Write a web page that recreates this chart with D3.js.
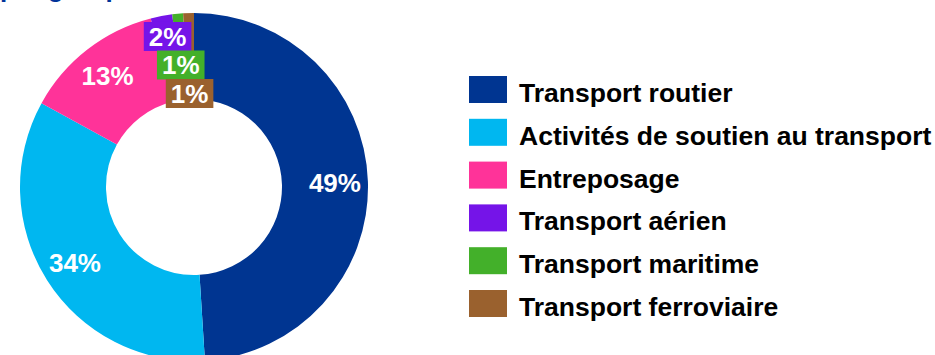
<!DOCTYPE html>
<html>
<head>
<meta charset="utf-8">
<script src="https://cdn.jsdelivr.net/npm/d3@7"></script>
<style>
  body { margin: 0; background: #fff; }
  svg { display: block; font-family: "Liberation Sans", Arial, sans-serif; font-weight: bold; }
</style>
</head>
<body>
<div id="my_dataviz"></div>
<script>
// data
const categories = ["Transport routier", "Activités de soutien au transport", "Entreposage",
                    "Transport aérien", "Transport maritime", "Transport ferroviaire"];
const shares = [49, 34, 13, 2, 1, 1];
const colors = ["#003591", "#00B7F0", "#FF3399", "#7514E8", "#43B02A", "#9A612E"];
const titleText = "par groupe d'activité";

const width = 935, height = 355;
const cx = 194, cy = 187;
const outerR = 174, innerR = 88, labelR = 141;

const svg = d3.select("#my_dataviz")
  .append("svg")
    .attr("width", width)
    .attr("height", height);

// title (cut off at the top of the picture, only descenders show)
svg.append("text")
  .attr("x", 0)
  .attr("y", -3)
  .attr("font-size", 26)
  .attr("fill", "#003399")
  .text(titleText);

const data = categories.map((c, i) => ({name: c, value: shares[i], color: colors[i]}));

const pie = d3.pie()
  .value(d => d.value)
  .sort(null);

const arc = d3.arc()
  .innerRadius(innerR)
  .outerRadius(outerR);

const labelArc = d3.arc()
  .innerRadius(labelR)
  .outerRadius(labelR);

const arcs = pie(data);

const g = svg.append("g")
  .attr("transform", `translate(${cx},${cy})`);

g.selectAll("path")
  .data(arcs)
  .join("path")
    .attr("d", arc)
    .attr("fill", d => d.data.color);

// big slices: plain white label on the ring
const big = arcs.filter(d => d.data.value >= 5);
g.selectAll("text.big")
  .data(big)
  .join("text")
    .attr("class", "big")
    .attr("x", d => labelArc.centroid(d)[0])
    .attr("y", d => labelArc.centroid(d)[1])
    .attr("dy", "0.35em")
    .attr("text-anchor", "middle")
    .attr("font-size", 26)
    .attr("fill", "#fff")
    .text(d => d.data.value + "%");

// small slices: boxed labels stacked downward so they don't collide
const small = arcs.filter(d => d.data.value < 5);
const step = 28.5, boxH = 29;
const startY = labelArc.centroid(small[0])[1] - 12;

const sg = g.selectAll("g.small")
  .data(small)
  .join("g")
    .attr("class", "small")
    .attr("transform", (d, i) => `translate(${labelArc.centroid(d)[0]},${startY + i * step})`);

sg.append("rect")
  .attr("fill", d => d.data.color);

sg.append("text")
  .attr("dy", "0.35em")
  .attr("text-anchor", "middle")
  .attr("font-size", 26)
  .attr("fill", "#fff")
  .text(d => d.data.value + "%");

sg.each(function() {
  const t = d3.select(this).select("text").node().getBBox();
  d3.select(this).select("rect")
    .attr("x", -t.width / 2 - 5)
    .attr("y", -boxH / 2)
    .attr("width", t.width + 10)
    .attr("height", boxH);
});

// legend
const legX = 469, legY = 76, legStep = 42.8;
const leg = svg.selectAll("g.leg")
  .data(data)
  .join("g")
    .attr("class", "leg")
    .attr("transform", (d, i) => `translate(${legX},${legY + i * legStep})`);

leg.append("rect")
  .attr("width", 38)
  .attr("height", 27)
  .attr("fill", d => d.color);

leg.append("text")
  .attr("x", 50)
  .attr("y", 26)
  .attr("font-size", 26.5)
  .attr("fill", "#000")
  .text(d => d.name);
</script>
</body>
</html>
